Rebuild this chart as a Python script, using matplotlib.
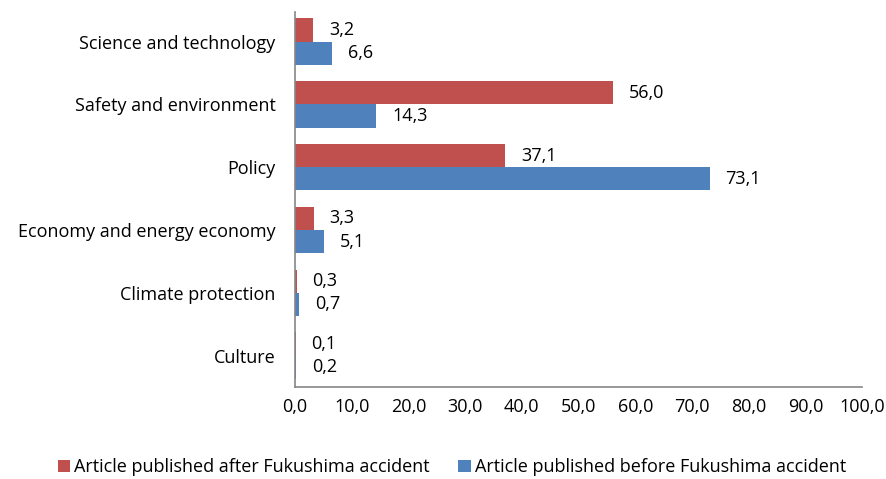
import numpy as np
import matplotlib.pyplot as plt

plt.rcParams['font.family'] = ['Open Sans', 'DejaVu Sans']

categories = ['Science and technology', 'Safety and environment', 'Policy',
              'Economy and energy economy', 'Climate protection', 'Culture']
after = [3.2, 56.0, 37.1, 3.3, 0.3, 0.1]
before = [6.6, 14.3, 73.1, 5.1, 0.7, 0.2]
xticks = np.arange(0, 101, 10)

red = '#C0504D'
blue = '#4F81BD'
fs = 13

fig = plt.figure(figsize=(8.86, 4.79), dpi=100)
ax = fig.add_axes([0.333, 0.192, 0.640, 0.783])

y = np.arange(len(categories))[::-1]
h = 0.37
ax.barh(y + h / 2, after, height=h, color=red, label='Article published after Fukushima accident')
ax.barh(y - h / 2, before, height=h, color=blue, label='Article published before Fukushima accident')

for yy, v in zip(y, after):
    ax.text(v + 2.8, yy + h / 2, f'{v:.1f}'.replace('.', ','), va='center', ha='left', fontsize=fs)
for yy, v in zip(y, before):
    ax.text(v + 2.8, yy - h / 2, f'{v:.1f}'.replace('.', ','), va='center', ha='left', fontsize=fs)

ax.set_xlim(0, 100)
ax.set_ylim(-0.5, 5.47)
ax.set_xticks(xticks)
ax.set_xticklabels([f'{t:.1f}'.replace('.', ',') for t in xticks], fontsize=fs)
ax.set_yticks(y)
ax.set_yticklabels(categories, fontsize=fs)
ax.tick_params(axis='x', length=0, pad=8)
ax.tick_params(axis='y', length=0, pad=14)
for s in ['top', 'right']:
    ax.spines[s].set_visible(False)
for s in ['left', 'bottom']:
    ax.spines[s].set_color('#868686')
    ax.spines[s].set_linewidth(1.2)

fig.legend(loc='lower center', bbox_to_anchor=(0.51, -0.028), ncol=2, frameon=False,
           fontsize=fs, handlelength=0.7, handleheight=0.7, handletextpad=0.2,
           columnspacing=1.6)

fig.savefig('out.png', dpi=100)
